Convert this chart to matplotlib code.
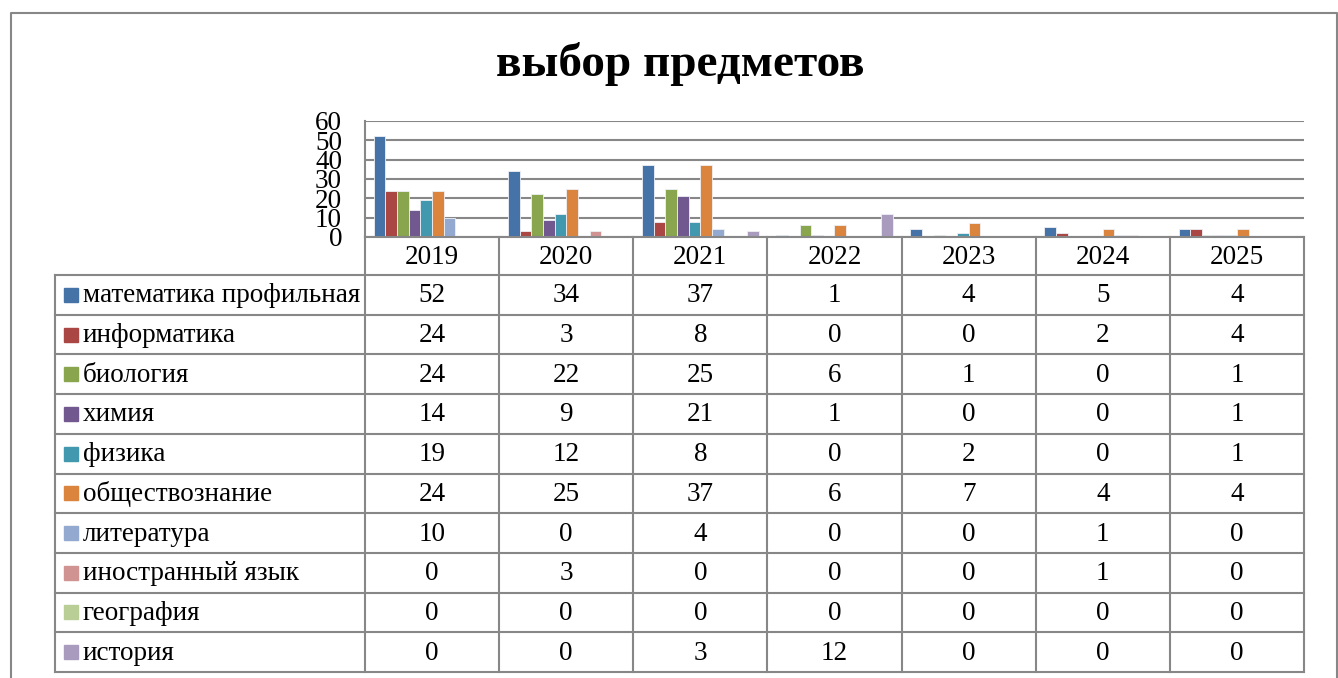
import matplotlib
matplotlib.use("Agg")
import matplotlib.pyplot as plt
import numpy as np

plt.rcParams['font.family'] = ['Liberation Serif', 'DejaVu Serif']

title = "выбор предметов"
years = ["2019", "2020", "2021", "2022", "2023", "2024", "2025"]
subjects = ["математика профильная", "информатика", "биология", "химия", "физика",
            "обществознание", "литература", "иностранный язык", "география", "история"]

math_prof = [52, 34, 37, 1, 4, 5, 4]
informatics = [24, 3, 8, 0, 0, 2, 4]
biology = [24, 22, 25, 6, 1, 0, 1]
chemistry = [14, 9, 21, 1, 0, 0, 1]
physics = [19, 12, 8, 0, 2, 0, 1]
social = [24, 25, 37, 6, 7, 4, 4]
literature = [10, 0, 4, 0, 0, 1, 0]
foreign_lang = [0, 3, 0, 0, 0, 1, 0]
geography = [0, 0, 0, 0, 0, 0, 0]
history = [0, 0, 3, 12, 0, 0, 0]

series = [math_prof, informatics, biology, chemistry, physics,
          social, literature, foreign_lang, geography, history]
colors = ["#4572A7", "#AA4643", "#89A54E", "#71588F", "#4198AF",
          "#DB843D", "#93A9CF", "#D19392", "#B9CD96", "#A99BBD"]

W, H = 1338, 678
fig = plt.figure(figsize=(W / 100, H / 100), dpi=100)

# layout in pixels
px_left, px_right = 365, 1304
px_top, px_zero = 121, 237
lab_left = 55
head_bot = 275
row_h = 39.7
grid_col = "#878787"
fs = 19.5

ax = fig.add_axes([px_left / W, 1 - px_zero / H, (px_right - px_left) / W, (px_zero - px_top) / H])
n = len(series)
bw = 1 / (n + 1.5)
x = np.arange(len(years))
for i, (vals, c) in enumerate(zip(series, colors)):
    ax.bar(x - 0.5 + 0.75 * bw + (i + 0.5) * bw, vals, width=bw, color=c,
           edgecolor="#eef0f5", linewidth=0.6, zorder=3)
ax.set_xlim(-0.5, len(years) - 0.5)
ax.set_ylim(0, 60)
ax.set_yticks(range(0, 61, 10))
ax.set_xticks([])
ax.yaxis.grid(True, color=grid_col, linewidth=1.5, zorder=1)
ax.tick_params(axis='y', length=0, pad=16.5, labelsize=fs)
for s in ["top", "right", "bottom"]:
    ax.spines[s].set_visible(False)
ax.spines["left"].set_color(grid_col)
ax.spines["left"].set_linewidth(1.5)

# overlay for frame, in pixel coordinates
ov = fig.add_axes([0, 0, 1, 1], zorder=-1)
ov.set_xlim(0, W)
ov.set_ylim(H, 0)
ov.axis("off")

# outer frame
ov.plot([10.5, 10.5, 1337, 1337], [H, 13, 13, H], color=grid_col, lw=1.5)

fig.text(680 / W, 1 - 64 / H, title, ha="center", va="center",
         fontsize=34, fontweight="bold")

# data table
col_w = (px_right - px_left) / len(years)
table_bot = head_bot + row_h * len(subjects)
over = fig.add_axes([0, 0, 1, 1], zorder=5)
over.set_xlim(0, W)
over.set_ylim(H, 0)
over.axis("off")
over.patch.set_alpha(0)

over.plot([px_left, px_right], [px_zero, px_zero], color=grid_col, lw=1.5)
for r in range(len(subjects) + 1):
    y = head_bot + r * row_h
    over.plot([lab_left, px_right], [y, y], color=grid_col, lw=1.5)
for j in range(len(years) + 1):
    xx = px_left + j * col_w
    over.plot([xx, xx], [px_zero, table_bot], color=grid_col, lw=1.5)
over.plot([lab_left, lab_left], [head_bot, table_bot], color=grid_col, lw=1.5)

for j, yr in enumerate(years):
    over.text(px_left + (j + 0.5) * col_w, (px_zero + head_bot) / 2 + 1, yr,
              ha="center", va="center", fontsize=fs)

for r, (name, vals, c) in enumerate(zip(subjects, series, colors)):
    yc = head_bot + (r + 0.5) * row_h
    over.add_patch(plt.Rectangle((64, yc - 7), 14, 14, color=c))
    over.text(83, yc + 1, name, ha="left", va="center", fontsize=fs)
    for j, v in enumerate(vals):
        over.text(px_left + (j + 0.5) * col_w, yc + 1, str(v),
                  ha="center", va="center", fontsize=fs)

fig.savefig("out.png", dpi=100, facecolor="white")
